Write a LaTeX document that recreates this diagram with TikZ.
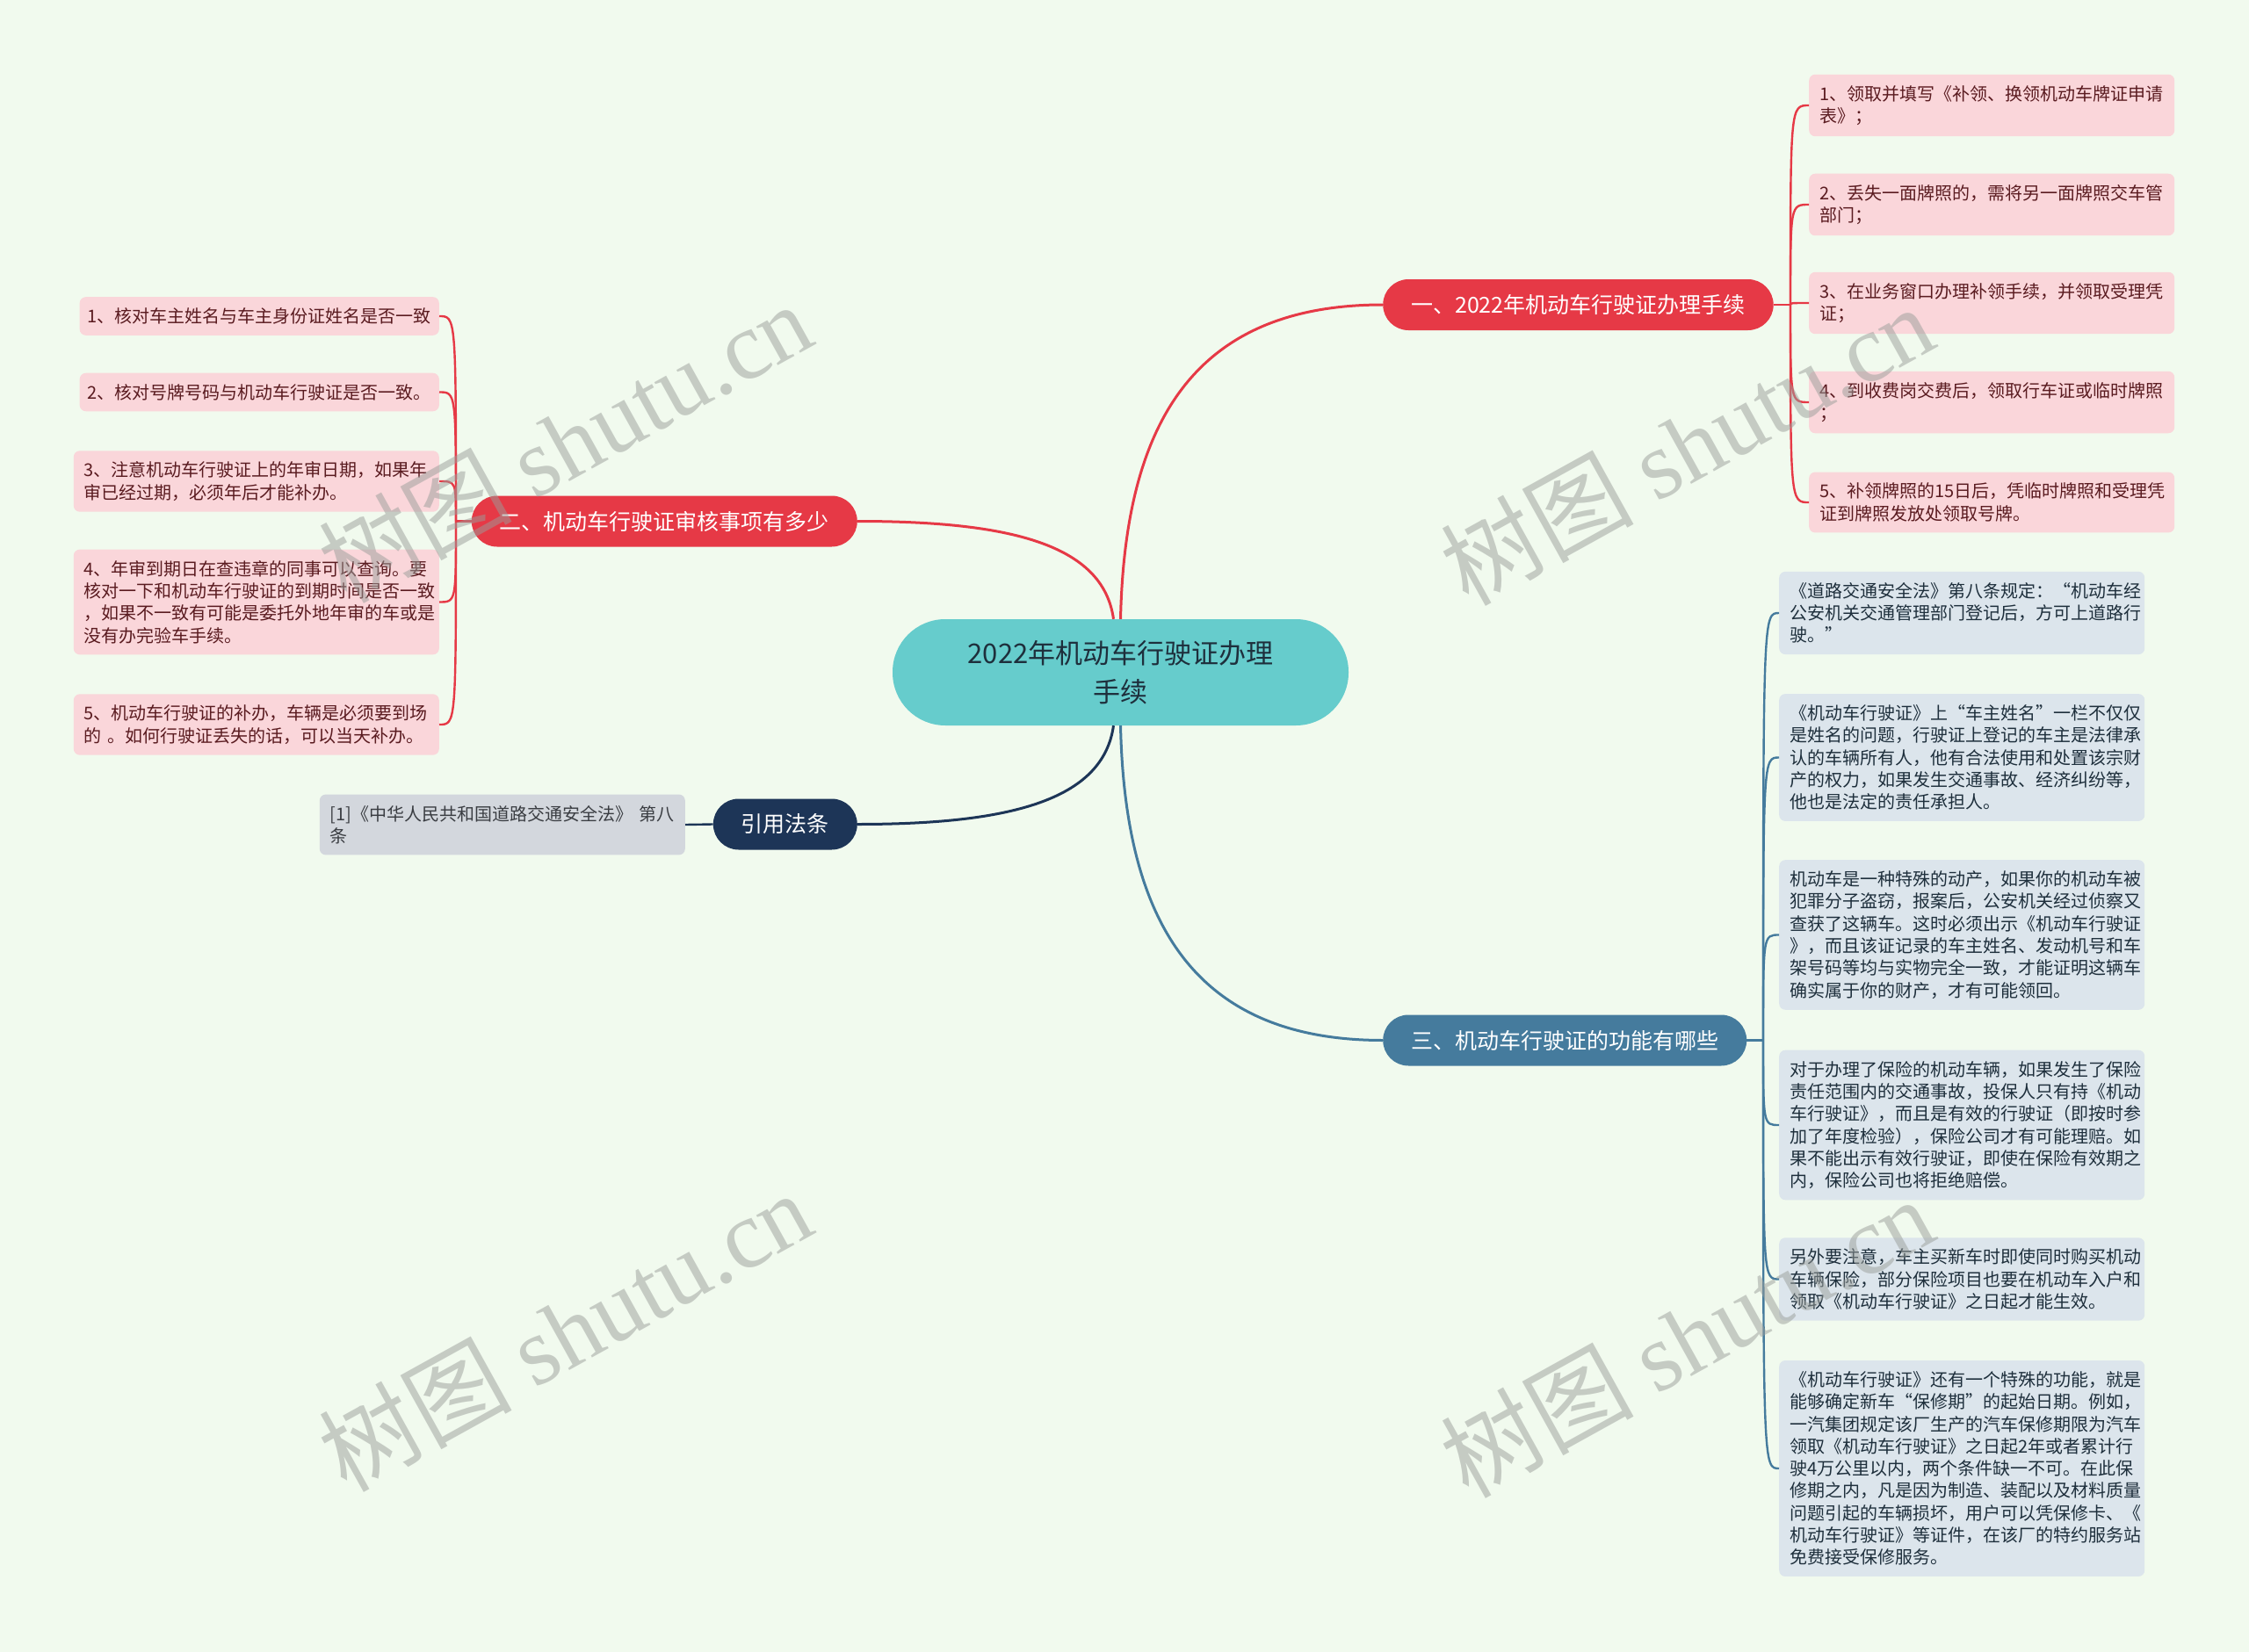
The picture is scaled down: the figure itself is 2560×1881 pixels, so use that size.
\documentclass[tikz,border=0pt]{standalone}
\usepackage{fontspec}
\setmainfont{Noto Sans CJK SC}
\newfontfamily\wmlatin{Liberation Serif}
\usetikzlibrary{calc}
\definecolor{cBg}{HTML}{F1FAEE}
\definecolor{cRed}{HTML}{E63946}
\definecolor{cPink}{HTML}{FAD6DA}
\definecolor{cRedTxt}{HTML}{5A1B20}
\definecolor{cTeal}{HTML}{66CCCC}
\definecolor{cBlue}{HTML}{457B9D}
\definecolor{cBlueLf}{HTML}{DCE5EC}
\definecolor{cBlueTxt}{HTML}{1E2F3C}
\definecolor{cNavy}{HTML}{1D3557}
\definecolor{cGrey}{HTML}{D3D7DD}
\definecolor{cGreyTxt}{HTML}{3A3D42}
\definecolor{cMark}{HTML}{9A9E9A}
\tikzset{
  root/.style={rounded corners=60pt,fill=cTeal,minimum width=519pt,
               minimum height=121pt,align=center,text=cBlueTxt,
               font=\fontsize{31}{44}\selectfont},
  topic/.style={rounded corners=29pt,minimum height=58pt,inner xsep=32pt,
                text=white,font=\fontsize{25}{30}\selectfont},
  leaf/.style={rounded corners=7pt,inner xsep=12pt,inner ysep=12.5pt,
               align=left,font=\fontsize{20}{25.3}\selectfont},
  wide/.style={text width=392pt},
  redleaf/.style={leaf,fill=cPink,text=cRedTxt},
  blueleaf/.style={leaf,wide,fill=cBlueLf,text=cBlueTxt},
  link/.style={line width=3pt},
  twig/.style={line width=2.4pt},
  wmark/.style={text=cMark,opacity=.5,rotate=29,
                font=\fontsize{110}{110}\selectfont},
}
\begin{document}
\begin{tikzpicture}[x=1pt,y=-1pt]
  \fill[cBg] (0,0) rectangle (2560,1881);
  \useasboundingbox (0,0) rectangle (2560,1881);
  % root and main topics
  \node[root] (c) at (1275.5,765.5) {2022年机动车行驶证办理\\手续};
  \node[topic,fill=cRed,anchor=west] (b1) at (1574,347)
     {一、2022年机动车行驶证办理手续};
  \node[topic,fill=cRed,anchor=east] (b2) at (976,593.5)
     {二、机动车行驶证审核事项有多少};
  \node[topic,fill=cNavy,anchor=east] (rb) at (976,938.5) {引用法条};
  \node[topic,fill=cBlue,anchor=west] (b3) at (1574,1184.5)
     {三、机动车行驶证的功能有哪些};
  \draw[link,cRed] (c.north) .. controls +(5,-225) and +(-214,0) .. (b1.west);
  \draw[link,cRed] ($(c.north)+(-8,0)$) .. controls +(-12,-85) and +(174,0) .. (b2.east);
  \draw[link,cNavy] ($(c.south)+(-8,0)$) .. controls +(-12,85) and +(174,0) .. (rb.east);
  \draw[link,cBlue] (c.south) .. controls +(5,225) and +(-214,0) .. (b3.west);
  % topic one
  \node[redleaf,wide,anchor=west] (r1) at (2059,120)
     {1、领取并填写《补领、换领机动车牌证申请\\表》；};
  \node[redleaf,wide,anchor=west] (r2) at (2059,233)
     {2、丢失一面牌照的，需将另一面牌照交车管\\部门；};
  \node[redleaf,wide,anchor=west] (r3) at (2059,345)
     {3、在业务窗口办理补领手续，并领取受理凭\\证；};
  \node[redleaf,wide,anchor=west] (r4) at (2059,458)
     {4、到收费岗交费后，领取行车证或临时牌照\\；};
  \node[redleaf,wide,anchor=west] (r5) at (2059,572)
     {5、补领牌照的15日后，凭临时牌照和受理凭\\证到牌照发放处领取号牌。};
  \coordinate (j1) at (2038,347);
  \draw[twig,cRed] (b1.east) -- (j1);
  \foreach \i in {1,...,5}
    \draw[twig,cRed] (j1) .. controls (j1 |- r\i.west) .. (r\i.west);
  % topic two
  \node[redleaf,inner xsep=9pt,anchor=east] (l1) at (500,360)
     {1、核对车主姓名与车主身份证姓名是否一致};
  \node[redleaf,inner xsep=9pt,anchor=east] (l2) at (500,446.5)
     {2、核对号牌号码与机动车行驶证是否一致。};
  \node[redleaf,wide,anchor=east] (l3) at (500,548)
     {3、注意机动车行驶证上的年审日期，如果年\\审已经过期，必须年后才能补办。};
  \node[redleaf,wide,anchor=east] (l4) at (500,685.5)
     {4、年审到期日在查违章的同事可以查询。要\\核对一下和机动车行驶证的到期时间是否一致\\，如果不一致有可能是委托外地年审的车或是\\没有办完验车手续。};
  \node[redleaf,wide,anchor=east] (l5) at (500,825)
     {5、机动车行驶证的补办，车辆是必须要到场\\的 。如何行驶证丢失的话，可以当天补办。};
  \coordinate (j2) at (519,593.5);
  \draw[twig,cRed] (b2.west) -- (j2);
  \foreach \i in {1,...,5}
    \draw[twig,cRed] (j2) .. controls (j2 |- l\i.east) .. (l\i.east);
  % cited law
  \node[leaf,wide,fill=cGrey,text=cGreyTxt,anchor=east] (rl) at (780,939)
     {[1]《中华人民共和国道路交通安全法》 第八\\条};
  \draw[twig,cNavy] (rb.west) -- (rl.east);
  % topic three
  \node[blueleaf,anchor=west] (f1) at (2025,698)
     {《道路交通安全法》第八条规定：“机动车经\\公安机关交通管理部门登记后，方可上道路行\\驶。”};
  \node[blueleaf,anchor=west] (f2) at (2025,862.5)
     {《机动车行驶证》上“车主姓名”一栏不仅仅\\是姓名的问题，行驶证上登记的车主是法律承\\认的车辆所有人，他有合法使用和处置该宗财\\产的权力，如果发生交通事故、经济纠纷等，\\他也是法定的责任承担人。};
  \node[blueleaf,anchor=west] (f3) at (2025,1064.5)
     {机动车是一种特殊的动产，如果你的机动车被\\犯罪分子盗窃，报案后，公安机关经过侦察又\\查获了这辆车。这时必须出示《机动车行驶证\\》，而且该证记录的车主姓名、发动机号和车\\架号码等均与实物完全一致，才能证明这辆车\\确实属于你的财产，才有可能领回。};
  \node[blueleaf,anchor=west] (f4) at (2025,1281)
     {对于办理了保险的机动车辆，如果发生了保险\\责任范围内的交通事故，投保人只有持《机动\\车行驶证》，而且是有效的行驶证（即按时参\\加了年度检验），保险公司才有可能理赔。如\\果不能出示有效行驶证，即使在保险有效期之\\内，保险公司也将拒绝赔偿。};
  \node[blueleaf,anchor=west] (f5) at (2025,1456.5)
     {另外要注意，车主买新车时即使同时购买机动\\车辆保险，部分保险项目也要在机动车入户和\\领取《机动车行驶证》之日起才能生效。};
  \node[blueleaf,anchor=west] (f6) at (2025,1672)
     {《机动车行驶证》还有一个特殊的功能，就是\\能够确定新车“保修期”的起始日期。例如，\\一汽集团规定该厂生产的汽车保修期限为汽车\\领取《机动车行驶证》之日起2年或者累计行\\驶4万公里以内，两个条件缺一不可。在此保\\修期之内，凡是因为制造、装配以及材料质量\\问题引起的车辆损坏，用户可以凭保修卡、《\\机动车行驶证》等证件，在该厂的特约服务站\\免费接受保修服务。};
  \coordinate (j3) at (2007,1184.5);
  \draw[twig,cBlue] (b3.east) -- (j3);
  \foreach \i in {1,...,6}
    \draw[twig,cBlue] (j3) .. controls (j3 |- f\i.west) .. (f\i.west);
  % watermarks
  \node[wmark] (w1) at (643,503) {树图 {\wmlatin shutu.cn}};
  \node[wmark] (w2) at (1920,506) {树图 {\wmlatin shutu.cn}};
  \node[wmark] (w3) at (643,1515) {树图 {\wmlatin shutu.cn}};
  \node[wmark] (w4) at (1920,1522) {树图 {\wmlatin shutu.cn}};
\end{tikzpicture}
\end{document}
